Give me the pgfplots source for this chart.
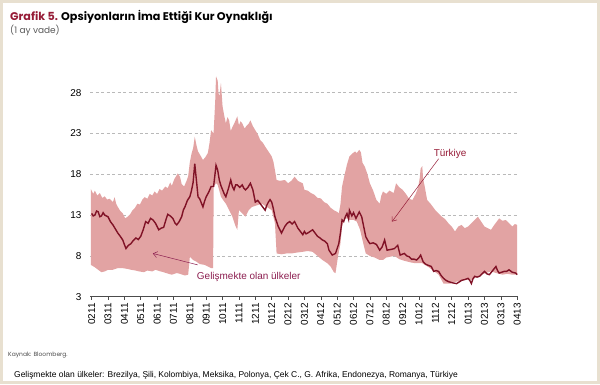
\documentclass[border=0pt]{standalone}
\usepackage{pgfplots}
\pgfplotsset{compat=1.18}
\usepgfplotslibrary{fillbetween}
\usetikzlibrary{arrows.meta}
\usepackage{fontspec}
\setmainfont{Liberation Sans}
\newfontfamily\gothic{Poppins}
\definecolor{bandc}{RGB}{226,163,163}
\definecolor{linec}{RGB}{128,18,38}
\definecolor{maroon}{RGB}{150,28,55}
\definecolor{purp}{RGB}{140,30,80}
\definecolor{framec}{RGB}{232,224,208}
\definecolor{gridc}{RGB}{185,185,185}
\begin{document}
\begin{tikzpicture}[x=1bp,y=1bp]
\draw[framec, line width=3bp] (1.5,1.5) rectangle (598.5,382.5);
\node[anchor=base west, inner sep=0] at (10,364) {\gothic\bfseries\fontsize{11.2}{13}\selectfont\textcolor{maroon}{Grafik 5.} Opsiyonların İma Ettiği Kur Oynaklığı};
\node[anchor=base west, inner sep=0] at (10,351) {\gothic\fontsize{9}{11}\selectfont\color{black!65}(1 ay vade)};
\node[anchor=base west, inner sep=0] at (8,28) {\gothic\fontsize{6}{7}\selectfont\color{black!70}Kaynak: Bloomberg.};
\node[anchor=base west, inner sep=0] at (14,6.5) {\fontsize{8.5}{10}\selectfont Gelişmekte olan ülkeler: Brezilya, Şili, Kolombiya, Meksika, Polonya, Çek C., G. Afrika, Endonezya, Romanya, Türkiye};
\begin{axis}[at={(90bp,87.3bp)}, anchor=south west, scale only axis,
  width=428bp, height=228.5bp,
  xmin=-0.1, xmax=26.05, ymin=3, ymax=31,
  axis x line*=bottom, axis y line*=left,
  y axis line style={draw=none},
  x axis line style={black!70, line width=0.6bp, -},
  xtick={0,...,26},
  xticklabels={0211,0311,0411,0511,0611,0711,0811,0911,1011,1111,1211,0112,0212,0312,0412,0512,0612,0712,0812,0912,1012,1112,1212,0113,0213,0313,0413},
  xtick style={black!70, line width=0.5bp},
  tick align=outside, major tick length=3bp,
  ytick={3,8,13,18,23,28}, ytick style={draw=none},
  yticklabel style={xshift=-2bp},
  ymajorgrids, grid style={gridc, dash pattern=on 3bp off 2.5bp, line width=0.6bp},
  ticklabel style={font=\fontsize{10}{12}\selectfont},
  /pgf/number format/assume math mode=true,
  xticklabel style={rotate=90, anchor=east},
  clip=false]
\addplot[name path=U, draw=none] coordinates {
(-0.05,16.2)(0.1,15.6)(0.2,16.0)(0.35,15.4)(0.5,15.7)(0.65,15.1)(0.8,15.3)(0.95,14.9)(1.1,15.0)(1.3,14.6)(1.4,15.2)(1.5,14.4)(1.6,14.0)(1.75,13.5)(1.9,13.2)(2.05,12.6)(2.2,12.8)(2.35,13.1)(2.5,13.6)(2.65,13.9)(2.8,14.4)(2.95,14.3)(3.1,14.9)(3.25,15.2)(3.4,15.0)(3.55,15.6)(3.7,15.4)(3.85,15.9)(4.0,15.6)(4.15,16.2)(4.3,16.0)(4.5,16.5)(4.65,16.3)(4.8,17.0)(4.9,16.6)(5.05,17.4)(5.26,18.1)(5.4,17.7)(5.5,16.8)(5.65,16.5)(5.8,17.2)(5.9,17.8)(6.0,19.5)(6.1,20.5)(6.2,21.2)(6.3,22.6)(6.4,21.6)(6.5,20.8)(6.65,20.3)(6.8,19.75)(6.95,20.1)(7.1,20.6)(7.2,21.8)(7.3,23.4)(7.45,23.0)(7.55,27.0)(7.6,30.0)(7.7,29.5)(7.75,28.0)(7.8,27.5)(7.9,29.2)(8.0,26.3)(8.1,25.2)(8.2,24.25)(8.3,25.0)(8.4,24.6)(8.5,23.3)(8.6,23.8)(8.75,24.4)(8.9,25.1)(9.0,24.0)(9.1,24.5)(9.2,24.25)(9.35,23.6)(9.45,23.9)(9.6,24.2)(9.7,24.6)(9.85,23.9)(10.0,23.4)(10.15,22.9)(10.3,22.2)(10.45,21.9)(10.6,21.4)(10.8,20.8)(11.0,20.2)(11.1,19.6)(11.2,18.5)(11.3,17.3)(11.5,17.2)(11.8,17.3)(12.0,16.9)(12.2,17.2)(12.4,17.7)(12.6,17.2)(12.9,16.9)(13.0,16.1)(13.2,16.0)(13.4,15.7)(13.6,15.5)(13.8,15.1)(14.0,15.05)(14.2,14.6)(14.4,14.4)(14.6,13.9)(14.8,13.6)(15.0,13.4)(15.1,13.2)(15.2,14.3)(15.3,16.5)(15.45,17.9)(15.6,19.2)(15.75,20.2)(15.9,20.5)(16.1,20.8)(16.2,20.6)(16.35,21.0)(16.45,20.7)(16.55,19.4)(16.7,18.9)(16.85,18.0)(17.0,16.9)(17.2,16.0)(17.4,14.85)(17.6,14.4)(17.7,15.4)(17.8,15.9)(18.0,15.6)(18.2,16.0)(18.45,15.7)(18.6,16.9)(18.8,16.4)(19.0,16.1)(19.2,15.6)(19.4,15.0)(19.6,14.85)(19.8,15.6)(19.95,16.4)(20.05,17.6)(20.1,18.7)(20.2,19.0)(20.25,17.5)(20.35,16.5)(20.5,14.85)(20.7,14.4)(21.0,13.6)(21.2,13.2)(21.4,12.8)(21.6,12.5)(21.8,12.0)(22.0,11.6)(22.2,11.0)(22.4,11.6)(22.6,11.8)(22.8,11.4)(23.0,11.6)(23.2,12.0)(23.4,12.4)(23.6,12.8)(23.8,12.2)(24.0,11.6)(24.2,11.4)(24.4,11.2)(24.6,11.8)(24.9,12.6)(25.1,12.3)(25.3,12.4)(25.5,12.0)(25.7,11.6)(25.85,11.9)(26.0,11.8)
};
\addplot[name path=L, draw=none] coordinates {
(-0.05,6.9)(0.2,6.6)(0.4,6.3)(0.6,6.0)(0.8,6.1)(1.0,6.3)(1.3,6.3)(1.6,6.5)(1.9,6.5)(2.2,6.4)(2.4,6.3)(2.7,6.2)(2.9,6.1)(3.2,6.0)(3.4,6.2)(3.7,6.1)(3.9,6.3)(4.2,6.1)(4.4,6.0)(4.7,5.8)(4.9,5.7)(5.2,5.9)(5.4,5.8)(5.7,5.6)(5.9,5.7)(6.0,7.9)(6.2,7.5)(6.4,7.3)(6.6,7.0)(6.9,6.9)(7.1,6.7)(7.3,6.5)(7.42,6.5)(7.46,16.5)(7.6,16.9)(7.7,16.7)(7.8,16.0)(7.9,15.25)(8.05,14.8)(8.2,14.4)(8.3,14.0)(8.4,13.6)(8.5,13.2)(8.6,12.8)(8.7,12.2)(8.8,11.6)(8.9,11.2)(9.0,13.6)(9.2,13.2)(9.4,12.8)(9.6,13.6)(9.8,14.0)(10.1,14.2)(10.4,14.4)(10.7,14.0)(11.0,13.6)(11.2,12.0)(11.3,8.3)(11.6,8.2)(11.9,8.3)(12.2,8.3)(12.5,8.4)(12.9,8.5)(13.2,8.6)(13.5,8.5)(13.8,8.0)(14.1,7.5)(14.4,7.1)(14.6,6.7)(14.8,6.0)(14.9,5.9)(15.05,7.9)(15.2,9.5)(15.3,11.6)(15.45,12.5)(15.6,12.6)(15.8,12.4)(16.0,12.4)(16.2,12.2)(16.4,11.2)(16.6,9.5)(16.75,8.3)(17.0,8.0)(17.3,7.8)(17.6,7.5)(17.8,7.5)(18.0,7.8)(18.5,8.0)(18.8,7.6)(19.1,7.4)(19.5,7.2)(19.8,7.1)(20.2,7.1)(20.6,6.6)(21.0,6.0)(21.2,5.7)(21.5,4.6)(21.9,4.6)(22.2,4.8)(22.6,5.0)(22.9,5.1)(23.2,5.0)(23.5,5.4)(23.8,5.7)(24.1,5.9)(24.4,6.1)(24.7,5.9)(25.1,5.7)(25.4,5.8)(25.7,5.7)(26.0,5.7)
};
\addplot[fill=bandc, draw=none] fill between[of=U and L];
\addplot[linec, line width=1.4bp] coordinates {
(0,13.2)(0.1,12.9)(0.2,13.0)(0.3,13.5)(0.4,13.4)(0.5,12.8)(0.6,12.9)(0.7,13.3)(0.8,13.0)(1.0,12.8)(1.15,12.2)(1.3,11.8)(1.45,11.3)(1.6,10.8)(1.75,10.4)(1.9,9.95)(2.0,9.4)(2.1,8.9)(2.25,9.3)(2.4,9.5)(2.55,9.9)(2.7,10.2)(2.85,10.0)(3.0,10.4)(3.15,11.2)(3.3,12.2)(3.45,12.0)(3.6,12.6)(3.75,12.4)(3.9,12.0)(4.0,11.6)(4.1,11.2)(4.25,11.4)(4.4,11.5)(4.55,12.5)(4.65,13.1)(4.8,12.9)(4.96,12.6)(5.1,12.0)(5.2,11.8)(5.35,12.2)(5.5,12.8)(5.6,13.6)(5.7,14.0)(5.85,14.8)(6.0,15.25)(6.1,16.0)(6.2,17.0)(6.3,19.3)(6.4,17.3)(6.5,15.25)(6.6,15.0)(6.7,14.5)(6.8,14.0)(6.9,14.7)(7.0,15.25)(7.15,15.8)(7.3,16.5)(7.45,16.5)(7.6,19.1)(7.7,18.5)(7.8,17.3)(7.9,16.6)(8.0,16.1)(8.1,15.6)(8.2,15.25)(8.35,16.2)(8.5,17.3)(8.6,16.5)(8.7,16.1)(8.8,16.7)(8.9,16.7)(9.05,16.4)(9.2,16.7)(9.3,16.3)(9.4,16.1)(9.55,16.4)(9.7,16.9)(9.85,16.1)(10.0,14.6)(10.15,14.8)(10.3,14.4)(10.45,14.0)(10.6,13.6)(10.7,14.2)(10.8,14.6)(10.9,14.9)(11.0,14.6)(11.1,13.8)(11.2,12.8)(11.3,12.2)(11.4,11.6)(11.5,11.2)(11.6,10.8)(11.7,11.2)(11.8,11.6)(11.95,12.0)(12.1,12.2)(12.25,11.9)(12.4,12.2)(12.5,11.8)(12.6,11.4)(12.75,11.0)(12.9,10.6)(13.0,11.0)(13.1,10.7)(13.2,10.8)(13.35,11.0)(13.5,11.2)(13.65,10.8)(13.8,10.4)(13.95,10.2)(14.1,9.95)(14.25,9.8)(14.4,9.5)(14.5,8.7)(14.7,8.1)(14.9,8.3)(15.1,9.5)(15.2,10.8)(15.3,12.4)(15.4,12.2)(15.5,12.8)(15.6,13.2)(15.7,12.5)(15.75,13.6)(15.9,12.9)(16.0,13.3)(16.15,12.6)(16.25,13.0)(16.35,13.4)(16.5,12.8)(16.6,11.8)(16.75,10.35)(16.9,9.8)(17.0,9.5)(17.2,9.6)(17.4,9.4)(17.6,8.7)(17.75,9.1)(17.9,9.95)(18.05,8.7)(18.3,8.8)(18.5,8.9)(18.7,9.3)(18.85,8.1)(19.1,8.3)(19.25,8.0)(19.4,7.9)(19.55,7.6)(19.7,7.6)(19.85,7.5)(20.0,7.8)(20.1,8.1)(20.25,7.3)(20.4,7.0)(20.5,6.9)(20.75,6.7)(20.9,6.1)(21.05,6.2)(21.2,6.1)(21.35,5.6)(21.5,5.25)(21.65,5.0)(21.8,4.85)(22.05,4.7)(22.3,4.6)(22.45,4.8)(22.6,5.0)(22.8,5.1)(23.0,5.25)(23.1,5.0)(23.2,4.6)(23.3,5.2)(23.4,5.5)(23.55,5.4)(23.7,5.5)(23.85,5.8)(24.0,6.1)(24.15,5.8)(24.3,5.7)(24.5,6.2)(24.7,6.7)(24.8,6.2)(24.9,5.9)(25.05,6.0)(25.2,6.1)(25.35,6.1)(25.5,6.3)(25.7,6.0)(25.9,5.9)(26.0,5.7)
};
\node[text=maroon, font=\fontsize{10}{12}\selectfont] at (axis cs:21.9,20.5) {Türkiye};
\draw[maroon, line width=0.5bp, -{Straight Barb[length=4bp,width=6bp]}] (axis cs:21.2,19.9) -- (axis cs:18.35,12.2);
\node[text=purp, font=\fontsize{10}{12}\selectfont] at (axis cs:9.6,5.4) {Gelişmekte olan ülkeler};
\draw[purp, line width=0.5bp, -{Straight Barb[length=4bp,width=6bp]}] (axis cs:6.48,6.9) -- (axis cs:3.74,8.3);
\end{axis}
\pgfresetboundingbox
\path[use as bounding box] (0,0) rectangle (600,384);
\end{tikzpicture}
\end{document}
